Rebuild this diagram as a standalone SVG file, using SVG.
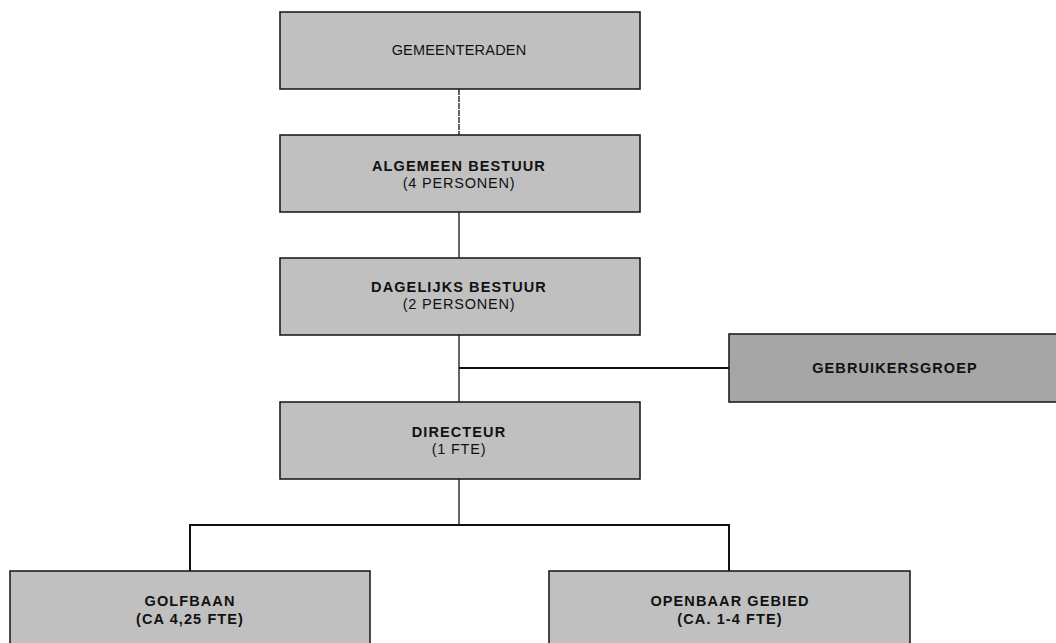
<svg xmlns="http://www.w3.org/2000/svg" width="1056" height="643" viewBox="0 0 1056 643">
<style>
.box{fill:#c0c0c0;stroke:#1e1e1e;stroke-width:1.6}
.dark{fill:#a6a6a6}
.t{font-family:"Liberation Sans",Arial,sans-serif;font-size:14.5px;fill:#111;text-anchor:middle;letter-spacing:0.8px}
.b{font-weight:bold;letter-spacing:1.1px}
.ln{stroke:#111;stroke-width:1.3;fill:none}
.lt{stroke:#111;stroke-width:2;fill:none}
</style>
<rect width="1056" height="643" fill="#fff"/>
<g id="connectors">
<line class="ln" x1="459" y1="89" x2="459" y2="135" stroke-dasharray="6 1"/>
<line class="ln" x1="459" y1="212" x2="459" y2="258"/>
<line class="ln" x1="459" y1="335" x2="459" y2="402"/>
<line class="lt" x1="459" y1="368" x2="729" y2="368"/>
<line class="ln" x1="459" y1="479" x2="459" y2="525"/>
<polyline class="lt" points="190,571 190,525 729,525 729,571"/>
</g>
<g id="gemeenteraden">
<rect class="box" x="280" y="12" width="360" height="77"/>
<text class="t" x="459" y="55" style="letter-spacing:0.2px">GEMEENTERADEN</text>
</g>
<g id="algemeen-bestuur">
<rect class="box" x="280" y="135" width="360" height="77"/>
<text class="t b" x="459" y="171">ALGEMEEN BESTUUR</text>
<text class="t" x="459" y="188">(4 PERSONEN)</text>
</g>
<g id="dagelijks-bestuur">
<rect class="box" x="280" y="258" width="360" height="77"/>
<text class="t b" x="459" y="292">DAGELIJKS BESTUUR</text>
<text class="t" x="459" y="309">(2 PERSONEN)</text>
</g>
<g id="gebruikersgroep">
<rect class="box dark" x="729" y="334" width="340" height="68"/>
<text class="t b" x="895" y="373">GEBRUIKERSGROEP</text>
</g>
<g id="directeur">
<rect class="box" x="280" y="402" width="360" height="77"/>
<text class="t b" x="459" y="437">DIRECTEUR</text>
<text class="t" x="459" y="454">(1 FTE)</text>
</g>
<g id="golfbaan">
<rect class="box" x="10" y="571" width="360" height="90"/>
<text class="t b" x="190" y="606">GOLFBAAN</text>
<text class="t b" x="190" y="624">(CA 4,25 FTE)</text>
</g>
<g id="openbaar-gebied">
<rect class="box" x="549" y="571" width="361" height="90"/>
<text class="t b" x="730" y="606">OPENBAAR GEBIED</text>
<text class="t b" x="730" y="624">(CA. 1-4 FTE)</text>
</g>
</svg>
